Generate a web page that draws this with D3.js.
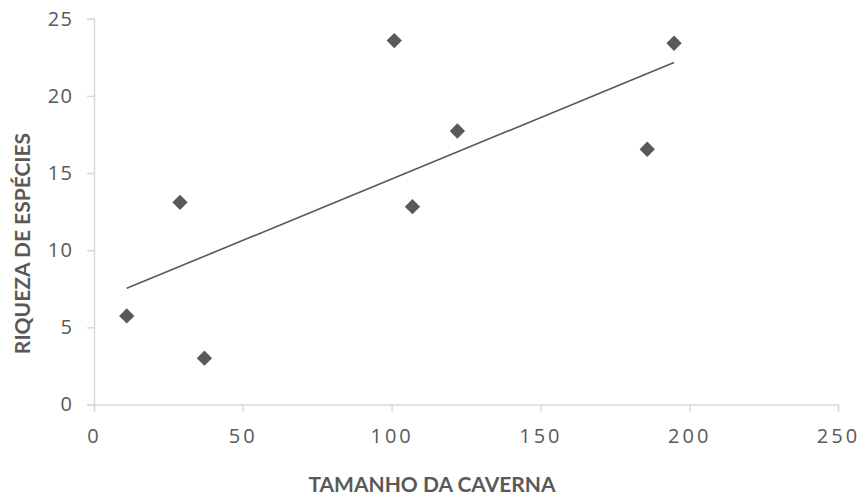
<!DOCTYPE html>
<html><head><meta charset="utf-8">
<script src="https://cdn.jsdelivr.net/npm/d3@7"></script>
<style>body{margin:0;background:#fff}svg{display:block}</style>
</head><body>
<script>
const caveSize = [11.0, 28.9, 37.1, 100.9, 107.0, 122.1, 185.9, 194.9];
const richness = [5.74, 13.1, 3.0, 23.58, 12.82, 17.72, 16.54, 23.41];
const xTicks = [0, 50, 100, 150, 200, 250];
const yTicks = [0, 5, 10, 15, 20, 25];
const xTitle = "TAMANHO DA CAVERNA";
const yTitle = "RIQUEZA DE ESPÉCIES";

const W = 861, H = 497;
const svg = d3.select("body").append("svg").attr("width", W).attr("height", H);
const x = d3.scaleLinear().domain([0, 250]).range([94, 838]);
const y = d3.scaleLinear().domain([0, 25]).range([404.5, 18.7]);
const grey = "#595959", axisCol = "#d9d9d9";
const font = "'Open Sans', sans-serif";

const xa = svg.append("g").attr("transform", `translate(0,${y(0)})`)
  .call(d3.axisBottom(x).tickValues(xTicks).tickSizeOuter(0).tickSize(7).tickPadding(17));
const ya = svg.append("g").attr("transform", `translate(${x(0)},0)`)
  .call(d3.axisLeft(y).tickValues(yTicks).tickSizeOuter(0).tickSize(7).tickPadding(15));
[xa, ya].forEach(g => {
  g.select(".domain").attr("stroke", axisCol).attr("stroke-width", 1.5);
  g.selectAll(".tick line").attr("stroke", axisCol).attr("stroke-width", 1.5);
  g.selectAll(".tick text").attr("fill", grey).style("font-family", font).style("font-size", "20px");
});
xa.selectAll(".tick text").style("letter-spacing", "3px");
ya.selectAll(".tick text").style("letter-spacing", "1.5px").attr("dx", "1.5px");

// trendline (least squares)
const mx = d3.mean(caveSize), my = d3.mean(richness);
const slope = d3.sum(caveSize, (v, i) => (v - mx) * (richness[i] - my)) / d3.sum(caveSize, v => (v - mx) ** 2);
const icpt = my - slope * mx;
const x0 = d3.min(caveSize), x1 = d3.max(caveSize);
svg.append("line")
  .attr("x1", x(x0)).attr("y1", y(icpt + slope * x0))
  .attr("x2", x(x1)).attr("y2", y(icpt + slope * x1))
  .attr("stroke", grey).attr("stroke-width", 1.6);

svg.append("g").selectAll("path").data(caveSize).join("path")
  .attr("d", d3.symbol(d3.symbolDiamond2, 150)())
  .attr("transform", (d, i) => `translate(${x(d)},${y(richness[i])})`)
  .attr("fill", grey);

svg.append("text").text(xTitle).attr("x", 432).attr("y", 492)
  .attr("text-anchor", "middle").attr("fill", grey)
  .style("font-family", "Lato, sans-serif").style("font-weight", "bold").style("font-size", "21px");
svg.append("text").text(yTitle)
  .attr("transform", `translate(30,243.5) rotate(-90)`)
  .attr("text-anchor", "middle").attr("fill", grey)
  .style("font-family", "Lato, sans-serif").style("font-weight", "bold").style("font-size", "21px");
</script>
</body></html>
